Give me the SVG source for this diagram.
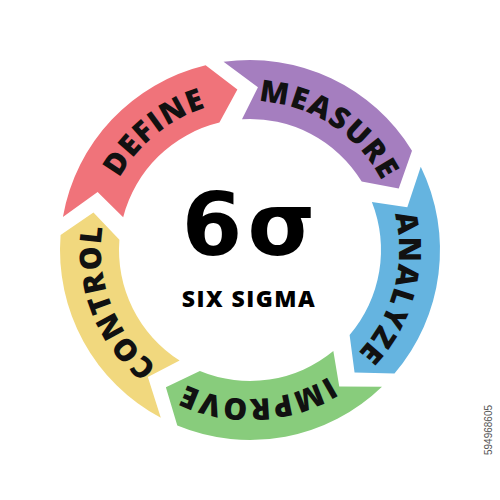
<svg xmlns="http://www.w3.org/2000/svg" width="500" height="500" viewBox="0 0 500 500">
<style>
.lbl{font-family:"Open Sans","DejaVu Sans",sans-serif;font-weight:800;font-size:30px;letter-spacing:1.5px;fill:#111;text-anchor:middle}
.big{font-family:"Open Sans","DejaVu Sans",sans-serif;font-weight:800;fill:#000;text-anchor:middle}
</style>
<defs>
<path id="arrow" d="M62.89,217.01 A190,190 0 0 1 205.64,65.25 L237.37,89.50 L219.42,122.62 A131,131 0 0 0 123.17,217.20 L97.62,192.12 Z"/>
<path id="ring" d="M250,399 A149,149 0 1 1 250,101 A149,149 0 1 1 250,399"/>
</defs>
<rect width="500" height="500" fill="#fff"/>
<g id="connectors"/>
<g id="define">
<use href="#arrow" fill="#F0737A"/>
<text class="lbl" transform="rotate(-39 250 250)"><textPath href="#ring" startOffset="50%">DEFINE</textPath></text>
</g>
<g id="measure">
<use href="#arrow" transform="rotate(72 250 250)" fill="#A57EBF"/>
<text class="lbl" transform="rotate(33 250 250)"><textPath href="#ring" startOffset="50%">MEASURE</textPath></text>
</g>
<g id="analyze">
<use href="#arrow" transform="rotate(144 250 250)" fill="#65B4E0"/>
<text class="lbl" transform="rotate(105 250 250)"><textPath href="#ring" startOffset="50%">ANALYZE</textPath></text>
</g>
<g id="improve">
<use href="#arrow" transform="rotate(216 250 250)" fill="#88CC7C"/>
<text class="lbl" transform="rotate(177 250 250)"><textPath href="#ring" startOffset="50%">IMPROVE</textPath></text>
</g>
<g id="control">
<use href="#arrow" transform="rotate(288 250 250)" fill="#F1D87E"/>
<text class="lbl" transform="rotate(249 250 250)"><textPath href="#ring" startOffset="50%">CONTROL</textPath></text>
</g>
<g id="center">
<text x="251" y="255" font-family="'DejaVu Sans',sans-serif" font-weight="700" font-size="87" letter-spacing="5" fill="#000" text-anchor="middle">6σ</text>
<text class="big" x="249" y="307" font-size="23" letter-spacing="1.5">SIX SIGMA</text>
</g>
<text x="492" y="430" transform="rotate(-90 492 430)" font-family="Liberation Sans, sans-serif" font-size="10" fill="#555" text-anchor="middle">594968605</text>
</svg>
